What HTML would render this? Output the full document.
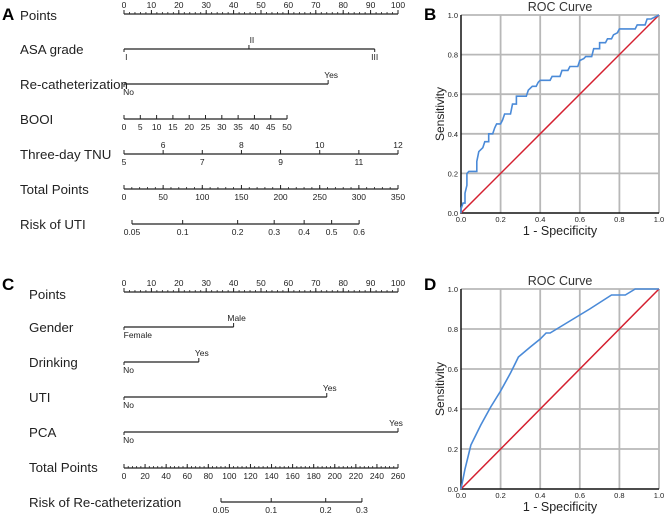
<!DOCTYPE html>
<html><head><meta charset="utf-8">
<style>
html,body{margin:0;padding:0;background:#fff;}
svg{display:block;font-family:"Liberation Sans",Arial,sans-serif;}
</style></head>
<body>
<svg id="fig" width="669" height="517" viewBox="0 0 669 517" xmlns="http://www.w3.org/2000/svg">
<text x="2" y="20" font-size="17" font-weight="bold">A</text>
<text x="2" y="290" font-size="17" font-weight="bold">C</text>
<text x="424" y="20" font-size="17" font-weight="bold">B</text>
<text x="424" y="290" font-size="17" font-weight="bold">D</text>
<g id="nomA"></g>
<g id="nomC"></g>
<g id="rocB"></g>
<g id="rocD"></g>
</svg>
<script>
// ---- Nomogram data ----
const ptsTicks = [0,10,20,30,40,50,60,70,80,90,100];
const asaLevels = ["I","II","III"];
const asaPoints = [0,45.6,91.5];
const recathLevels = ["No","Yes"];
const recathPoints = [0,74.5];
const booiTicks = [0,5,10,15,20,25,30,35,40,45,50];
const booiMaxPoints = 59.5;
const tnuTicks = [5,6,7,8,9,10,11,12];
const totalA = [0,50,100,150,200,250,300,350];
const riskA = [0.05,0.1,0.2,0.3,0.4,0.5,0.6];
const genderLevels = ["Female","Male"];
const genderPoints = [0,40];
const drinkLevels = ["No","Yes"];
const drinkPoints = [0,27.3];
const utiLevels = ["No","Yes"];
const utiPoints = [0,74];
const pcaLevels = ["No","Yes"];
const pcaPoints = [0,100];
const totalC = [0,20,40,60,80,100,120,140,160,180,200,220,240,260];
const riskC = [0.05,0.1,0.2,0.3];

// ---- ROC data ----
const rocB_fpr = [0,0,0.01,0.02,0.02,0.03,0.03,0.04,0.08,0.08,0.09,0.11,0.12,0.14,0.14,0.16,0.17,0.18,0.2,0.21,0.22,0.25,0.26,0.28,0.28,0.33,0.34,0.36,0.38,0.39,0.4,0.45,0.46,0.5,0.51,0.54,0.55,0.59,0.6,0.62,0.63,0.66,0.67,0.7,0.7,0.73,0.74,0.76,0.77,0.79,0.8,0.88,0.89,0.93,0.94,0.96,1];
const rocB_tpr = [0,0.02,0.05,0.05,0.1,0.14,0.2,0.21,0.21,0.26,0.31,0.33,0.36,0.36,0.4,0.4,0.43,0.45,0.45,0.47,0.5,0.5,0.55,0.55,0.59,0.59,0.62,0.64,0.64,0.66,0.67,0.67,0.69,0.69,0.72,0.72,0.74,0.74,0.77,0.78,0.79,0.79,0.83,0.83,0.86,0.86,0.88,0.88,0.9,0.91,0.93,0.93,0.95,0.95,0.98,0.98,1];
const rocD_fpr = [0,0.02,0.05,0.1,0.15,0.2,0.25,0.27,0.29,0.35,0.4,0.43,0.45,0.55,0.65,0.76,0.83,0.88,1];
const rocD_tpr = [0,0.1,0.22,0.32,0.41,0.49,0.58,0.62,0.66,0.71,0.75,0.78,0.78,0.84,0.9,0.97,0.97,1.0,1];
const rocTicks = ["0.0","0.2","0.4","0.6","0.8","1.0"];

const NS="http://www.w3.org/2000/svg";
function mk(tag,attrs,parent){const e=document.createElementNS(NS,tag);for(const k in attrs)e.setAttribute(k,attrs[k]);parent.appendChild(e);return e;}
function txt(s,x,y,size,anchor,parent){const t=mk('text',{x:x,y:y,'font-size':size,'text-anchor':anchor||'middle',fill:'#222'},parent);t.textContent=s;return t;}

const X0=124, X1=398;
const ptX = p => X0 + (X1-X0)*p/100;
const logit = p => Math.log(p/(1-p));

function rowLabel(g,s,y,name){const t=txt(s,0,y+5,13.3,'start',g);t.setAttribute('x', g.id==='nomA'?20:29);

}

function scaleAxis(g,y,vals,fx,labels,minorStep,minorFrom,minorTo,labelSide,name,altSides){
  const ax=mk('g',{},g);
  
  
  mk('line',{x1:fx(vals[0]),x2:fx(vals[vals.length-1]),y1:y,y2:y,stroke:'#222','stroke-width':1.3},ax);
  if(minorStep){for(let v=minorFrom;v<=minorTo+1e-9;v+=minorStep){const x=fx(v);mk('line',{x1:x,x2:x,y1:y,y2:y-2,stroke:'#222','stroke-width':0.8},ax);}}
  vals.forEach((v,i)=>{const x=fx(v);
    let side=labelSide; if(altSides) side=altSides[i];
    mk('line',{x1:x,x2:x,y1:y,y2:y-4,stroke:'#222','stroke-width':1},ax);
    if(side==='above') txt(labels[i],x,y-6,8.5,'middle',ax); else txt(labels[i],x,y+11,8.5,'middle',ax);
  });
}
function catAxis(g,y,levels,points,sides,name){
  const ax=mk('g',{},g);
  
  
  mk('line',{x1:ptX(points[0]),x2:ptX(points[points.length-1]),y1:y,y2:y,stroke:'#222','stroke-width':1.3},ax);
  levels.forEach((l,i)=>{const x=ptX(points[i]);
    if(sides[i]==='above'){mk('line',{x1:x,x2:x,y1:y,y2:y-4,stroke:'#222'},ax);txt(l,x+(i===levels.length-1&&points[i]>=99?-2:3),y-6,8.5,'middle',ax);}
    else{mk('line',{x1:x,x2:x,y1:y,y2:y+3,stroke:'#222'},ax);txt(l,x+(i===0?l.length*2.3:0),y+11,8.5,'middle',ax);}
  });
}

// Panel A
(function(){
  const g=document.getElementById('nomA');
  rowLabel(g,'Points',15,'label-points');
  scaleAxis(g,14,ptsTicks,ptX,ptsTicks.map(String),2,0,100,'above','points-axis');
  rowLabel(g,'ASA grade',49,'label-asa-grade');
  catAxis(g,49,asaLevels,asaPoints,['below','above','below'],'asa-grade-axis');
  rowLabel(g,'Re-catheterization',84,'label-recatheterization');
  catAxis(g,84,recathLevels,recathPoints,['below','above'],'recatheterization-axis');
  rowLabel(g,'BOOI',119,'label-booi');
  const bx=v=>ptX(v/50*booiMaxPoints);
  scaleAxis(g,119,booiTicks,bx,booiTicks.map(String),0,0,0,'below','booi-axis');
  rowLabel(g,'Three-day TNU',154,'label-three-day-tnu');
  const tx=v=>X0+(X1-X0)*(v-5)/7;
  scaleAxis(g,154,tnuTicks,tx,tnuTicks.map(String),0,0,0,'below','tnu-axis',tnuTicks.map(v=>v%2===0?'above':'below'));
  rowLabel(g,'Total Points',189,'label-total-points');
  const tpx=v=>X0+(X1-X0)*v/350;
  scaleAxis(g,189,totalA,tpx,totalA.map(String),10,0,350,'below','total-points-axis');
  rowLabel(g,'Risk of UTI',224,'label-risk-uti');
  const rx=p=>132+67.8*(logit(p)-logit(0.05));
  scaleAxis(g,224,riskA,rx,riskA.map(String),0,0,0,'below','risk-uti-axis');
})();

// Panel C
(function(){
  const g=document.getElementById('nomC');
  rowLabel(g,'Points',294,'label-points-c');
  scaleAxis(g,292,ptsTicks,ptX,ptsTicks.map(String),2,0,100,'above','points-axis-c');
  rowLabel(g,'Gender',327,'label-gender');
  catAxis(g,327,genderLevels,genderPoints,['below','above'],'gender-axis');
  rowLabel(g,'Drinking',362,'label-drinking');
  catAxis(g,362,drinkLevels,drinkPoints,['below','above'],'drinking-axis');
  rowLabel(g,'UTI',397,'label-uti');
  catAxis(g,397,utiLevels,utiPoints,['below','above'],'uti-axis');
  rowLabel(g,'PCA',432,'label-pca');
  catAxis(g,432,pcaLevels,pcaPoints,['below','above'],'pca-axis');
  rowLabel(g,'Total Points',467,'label-total-points-c');
  const tpx=v=>X0+(X1-X0)*v/260;
  scaleAxis(g,468,totalC,tpx,totalC.map(String),4,0,260,'below','total-points-axis-c');
  rowLabel(g,'Risk of Re-catheterization',502,'label-risk-recatheterization');
  const rx=p=>221+67.2*(logit(p)-logit(0.05));
  scaleAxis(g,502,riskC,rx,riskC.map(String),0,0,0,'below','risk-recatheterization-axis');
})();

// ROC panels
function roc(id,top,bottom,fpr,tpr){
  const g=document.getElementById(id);
  const L=461,R=659;
  const sx=v=>L+(R-L)*v, sy=v=>bottom-(bottom-top)*v;
  txt('ROC Curve',(L+R)/2,top-4,12.5,'middle',g).setAttribute('fill','#333');
  for(let i=1;i<=5;i++){const v=i/5;
    const gl=mk('line',{x1:sx(v),x2:sx(v),y1:top,y2:bottom,stroke:'#b8b8b8','stroke-width':1.8},g);
    
    
    const gh=mk('line',{x1:L,x2:R,y1:sy(v),y2:sy(v),stroke:'#b8b8b8','stroke-width':1.8},g);
    
    
  }
  const ax=mk('path',{d:`M${L},${top} L${L},${bottom} L${R},${bottom}`,fill:'none',stroke:'#111','stroke-width':1.5},g);
  
  
  rocTicks.forEach((s,i)=>{const v=i/5;
    txt(s,L-3,sy(v)+3,7.5,'end',g);
    txt(s,sx(v),bottom+9,7.5,'middle',g);
  });
  const yl=txt('Sensitivity',0,0,12,'middle',g);
  yl.setAttribute('transform',`translate(${L-17},${(top+bottom)/2}) rotate(-90)`);
  
  
  const xl=txt('1 - Specificity',(L+R)/2,bottom+22,12.5,'middle',g);
  
  
  const ref=mk('line',{x1:sx(0),y1:sy(0),x2:sx(1),y2:sy(1),stroke:'#d42030','stroke-width':1.5},g);
  
  
  const pts=fpr.map((f,i)=>sx(f).toFixed(1)+','+sy(tpr[i]).toFixed(1)).join(' ');
  const c=mk('polyline',{points:pts,fill:'none',stroke:'#4a8ad8','stroke-width':1.6},g);
  
  
}
roc('rocB',15,213,rocB_fpr,rocB_tpr);
roc('rocD',289,489,rocD_fpr,rocD_tpr);
</script>
</body></html>
